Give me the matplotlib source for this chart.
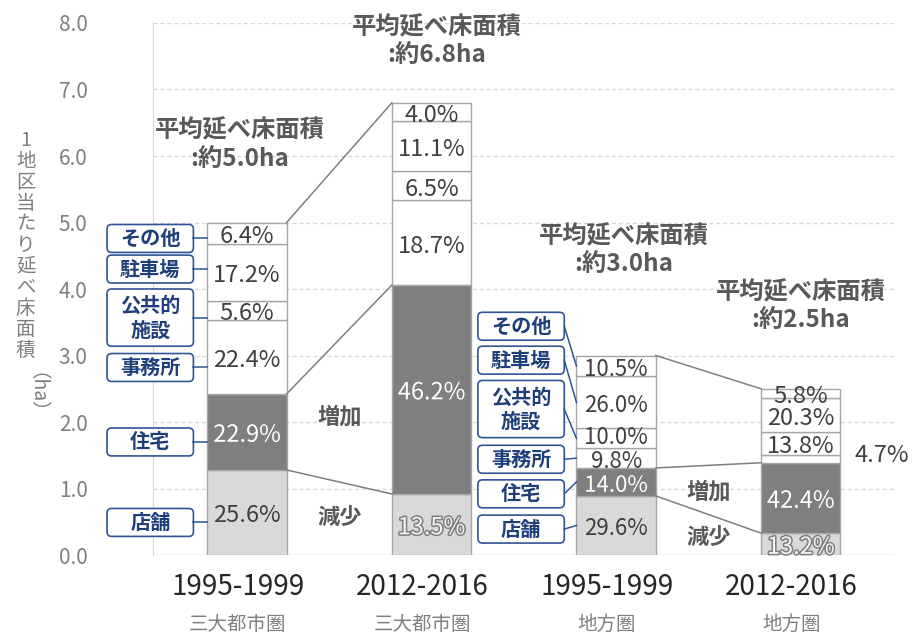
import numpy as np
import matplotlib.pyplot as plt
import matplotlib.patheffects as pe
from matplotlib.patches import FancyBboxPatch

plt.rcParams['font.family'] = ['Noto Sans CJK JP', 'DejaVu Sans']

# data
periods = ['1995-1999', '2012-2016', '1995-1999', '2012-2016']
regions = ['三大都市圏', '三大都市圏', '地方圏', '地方圏']
totals = [5.0, 6.8, 3.0, 2.5]          # ha
uses = ['店舗', '住宅', '事務所', '公共的\n施設', '駐車場', 'その他']
shop = [25.6, 13.5, 29.6, 13.2]
housing = [22.9, 46.2, 14.0, 42.4]
office = [22.4, 18.7, 9.8, 4.7]
public = [5.6, 6.5, 10.0, 13.8]
parking = [17.2, 11.1, 26.0, 20.3]
other = [6.4, 4.0, 10.5, 5.8]
total_labels = ['平均延べ床面積\n:約5.0ha', '平均延べ床面積\n:約6.8ha',
                '平均延べ床面積\n:約3.0ha', '平均延べ床面積\n:約2.5ha']

shares = np.array([shop, housing, office, public, parking, other])
heights = shares / shares.sum(axis=0) * np.array(totals)
tops = np.cumsum(heights, axis=0)
bottoms = tops - heights

seg_colors = ['#d9d9d9', '#7f7f7f', 'white', 'white', 'white', 'white']
grey_txt = '#595959'
blue = '#2f5597'

fig = plt.figure(figsize=(9.15, 6.37), dpi=100)
ax = fig.add_axes([0.167, 0.1287, 0.811, 0.8352])
x = np.arange(4)
w = 0.43

for i in range(6):
    ax.bar(x, heights[i], w, bottom=bottoms[i], color=seg_colors[i],
           edgecolor='#a6a6a6', linewidth=1, zorder=3)

# percent labels
for j in range(4):
    for i in range(6):
        yc = bottoms[i, j] + heights[i, j] / 2 - 0.05
        xc = x[j]
        if j == 3 and i == 2:
            xc = x[j] + 0.44
            yc = 1.49
        if j == 2 and i == 3:
            yc += 0.07   # keep 10.0% clear of 9.8%
        fs = 16 if j == 2 else 17
        txt = '%.1f%%' % shares[i, j]
        if i == 1 or (i == 0 and j in (1, 3)):
            fc = 'white' if i == 1 else '#f2f2f2'
            ax.text(xc, yc, txt, ha='center', va='center', fontsize=fs,
                    color=fc, zorder=5,
                    path_effects=[pe.withStroke(linewidth=2.2, foreground='#7f7f7f')])
        else:
            ax.text(xc, yc, txt, ha='center', va='center', fontsize=fs,
                    color='#404040', zorder=5)

# connecting lines between periods
change_pos = {0: (2.07, 0.56), 2: (0.95, 0.26)}
for a, b in [(0, 1), (2, 3)]:
    for lvl in [0, 1, 5]:
        ax.plot([x[a] + w / 2, x[b] - w / 2], [tops[lvl, a], tops[lvl, b]],
                color='#7f7f7f', lw=1.1, zorder=4)
    xm = (x[a] + x[b]) / 2
    up_y, down_y = change_pos[a]
    ax.text(xm, up_y, '増加', ha='center', va='center', fontsize=16,
            color=grey_txt, fontweight='bold', zorder=5)
    ax.text(xm, down_y, '減少', ha='center', va='center', fontsize=16,
            color=grey_txt, fontweight='bold', zorder=5)

# total area notes
note_pos = [(-0.04, 6.17), (1.03, 7.73), (2.04, 4.59), (3.0, 3.74)]
for (nx, ny), t in zip(note_pos, total_labels):
    ax.text(nx, ny, t, ha='center', va='center', fontsize=17.5,
            color=grey_txt, fontweight='bold', linespacing=1.2, clip_on=False)

# legend boxes
box_left = [-0.758, 1.251]
box_w = 0.468
box_y = [[0.49, 1.70, 2.82, 3.57, 4.30, 4.76],
         [0.39, 0.92, 1.44, 2.195, 2.93, 3.44]]
box_h = [0.42, 0.42, 0.42, 0.86, 0.42, 0.42]
for k, bar in enumerate([0, 2]):
    bl = box_left[k]
    for i in range(6):
        yc = box_y[k][i]
        h = box_h[i]
        p = FancyBboxPatch((bl, yc - h / 2), box_w, h,
                           boxstyle='round,pad=0,rounding_size=0.025',
                           mutation_aspect=2.78, facecolor='white',
                           edgecolor=blue, lw=1.2, zorder=6, clip_on=False)
        ax.add_patch(p)
        ax.text(bl + box_w / 2, yc, uses[i], ha='center', va='center',
                fontsize=14.5, color='#1f3f7a', fontweight='bold',
                linespacing=1.2, zorder=7, clip_on=False)
        if k == 0:
            ty = yc
        else:
            ty = bottoms[i, bar] + heights[i, bar] / 2
        ax.plot([bl + box_w, x[bar] - w / 2], [yc, ty], color=blue,
                lw=1.1, zorder=6, clip_on=False)

# axes styling
ax.set_xlim(-0.51, 3.51)
ax.set_ylim(0, 8)
ax.set_yticks(np.arange(0, 8.1, 1.0))
ax.set_yticklabels(['%.1f' % v for v in np.arange(0, 8.1, 1.0)])
ax.tick_params(axis='y', length=0, pad=47, labelsize=15, labelcolor='#808080')
ax.set_xticks([])
for s in ['top', 'right', 'bottom']:
    ax.spines[s].set_visible(False)
ax.spines['left'].set_color('#d9d9d9')
ax.yaxis.grid(True, linestyle=(0, (3, 2)), color='#d9d9d9', lw=1, zorder=0)
ax.axhline(0, color='#d9d9d9', lw=1, zorder=1)

for j in range(4):
    ax.text(x[j] - 0.05, -0.48, periods[j], ha='center', va='center',
            fontsize=20, color='#262626', clip_on=False)
    ax.text(x[j] - 0.05, -1.05, regions[j], ha='center', va='center',
            fontsize=14, color='#7f7f7f', clip_on=False)

# vertical y label
fig.text(0.028, 0.615, '1\n地\n区\n当\nた\nり\n延\nべ\n床\n面\n積', ha='center',
         va='center', fontsize=14, color='#7f7f7f', linespacing=1.0)
fig.text(0.028, 0.367, '（ha）', ha='center', va='center', fontsize=14,
         color='#7f7f7f', rotation=270)

fig.savefig('out.png', dpi=100)
